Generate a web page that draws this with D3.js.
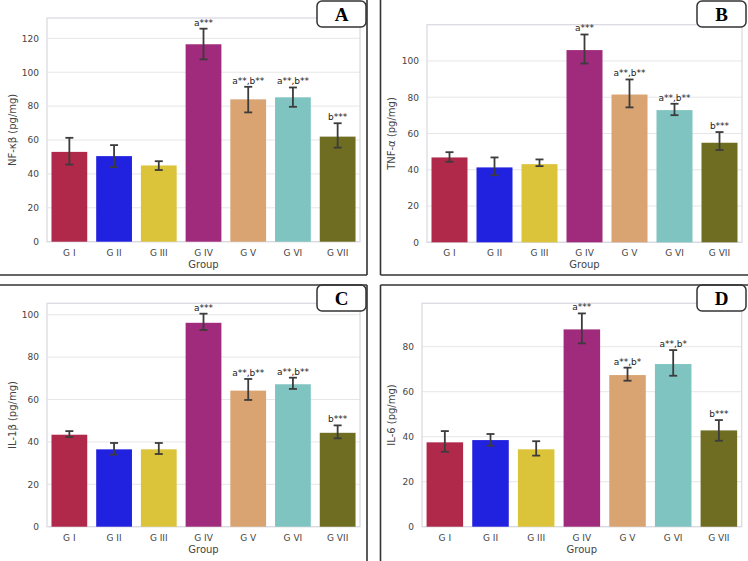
<!DOCTYPE html>
<html lang="en">
<head>
<meta charset="UTF-8">
<title>cytokines by group</title>
<script src="https://d3js.org/d3.v7.min.js"></script>
<style>
    body { margin: 0; background: #fff; }
    .tick-label { font-family: "DejaVu Sans", sans-serif; font-size: 9px; fill: #444; }
    .axis-title { font-family: "DejaVu Sans", sans-serif; font-size: 10px; fill: #444; }
    .sig { font-family: "DejaVu Sans", sans-serif; font-size: 9px; fill: #222; text-anchor: middle; }
    .panel-letter { font-family: "Liberation Serif", "Times New Roman", serif; font-size: 19px; font-weight: bold; text-anchor: middle; }
</style>
</head>
<body>
<svg id="fig" width="748" height="561"></svg>
<script>
    // groups and bar colours
    const groups = ["G I", "G II", "G III", "G IV", "G V", "G VI", "G VII"];
    const colors = ["#b0294b", "#2121e0", "#dcc43a", "#a02a7c", "#d9a472", "#7fc4c0", "#6e6d22"];
    const sigLabels = ["", "", "", "a***", "a**,b**", "a**,b**", "b***"];
    const sigLabelsD = ["", "", "", "a***", "a**,b*", "a**,b*", "b***"];

    // panel A : NF-kB
    const nfkbMean = [53, 50.5, 45, 116.5, 84, 85.2, 62];
    const nfkbLo = [45.5, 44, 42.3, 107.6, 76.3, 79.6, 55.5];
    const nfkbHi = [61.3, 57, 47.5, 125.7, 91.4, 91, 69.9];

    // panel B : TNF-a
    const tnfMean = [46.8, 41.3, 43.1, 106, 81.5, 72.9, 54.9];
    const tnfLo = [44.4, 37, 42, 98.6, 74.4, 70.1, 50.9];
    const tnfHi = [49.7, 46.8, 45.7, 114.6, 89.8, 76.4, 60.8];

    // panel C : IL-1b
    const il1Mean = [43.4, 36.5, 36.5, 96.2, 64.2, 67.2, 44.3];
    const il1Lo = [42.3, 34, 34.3, 92.8, 59.8, 65, 41.7];
    const il1Hi = [45.1, 39.5, 39.5, 100.5, 69.7, 70.3, 47.8];

    // panel D : IL-6
    const il6Mean = [37.5, 38.5, 34.4, 87.7, 67.4, 72.3, 42.8];
    const il6Lo = [33.3, 36, 31.6, 81.5, 64.9, 67.1, 38.2];
    const il6Hi = [42.5, 41.2, 38, 94.8, 70.7, 78.5, 47.4];

    const svg = d3.select("#fig");

    const panels = [
        {letter: "A", ylabel: "NF-κβ (pg/mg)", mean: nfkbMean, lo: nfkbLo, hi: nfkbHi, sig: sigLabels,
         left: 47, right: 360, top: 18, bottom: 241.7, ymax: 132, ticks: [0, 20, 40, 60, 80, 100, 120],
         ylabX: 12, box: [317, 1]},
        {letter: "B", ylabel: "TNF-α (pg/mg)", mean: tnfMean, lo: tnfLo, hi: tnfHi, sig: sigLabels,
         left: 427, right: 742, top: 24.7, bottom: 242.3, ymax: 120, ticks: [0, 20, 40, 60, 80, 100],
         ylabX: 391, box: [697, 1]},
        {letter: "C", ylabel: "IL-1β (pg/mg)", mean: il1Mean, lo: il1Lo, hi: il1Hi, sig: sigLabels,
         left: 47, right: 360, top: 303.3, bottom: 526.7, ymax: 105.4, ticks: [0, 20, 40, 60, 80, 100],
         ylabX: 12, box: [317, 285]},
        {letter: "D", ylabel: "IL-6 (pg/mg)", mean: il6Mean, lo: il6Lo, hi: il6Hi, sig: sigLabelsD,
         left: 422, right: 741.7, top: 303.3, bottom: 526.7, ymax: 99.3, ticks: [0, 20, 40, 60, 80],
         ylabX: 391, box: [697, 285]}
    ];

    panels.forEach(drawPanel);

    function drawPanel(p) {
        const g = svg.append("g");
        const x = d3.scaleBand().domain(groups).range([p.left, p.right])
            .paddingInner(0.2).paddingOuter(0.1);
        const y = d3.scaleLinear().domain([0, p.ymax]).range([p.bottom, p.top]);

        // grid
        g.selectAll(".grid").data(p.ticks).enter().append("line")
            .attr("x1", p.left).attr("x2", p.right)
            .attr("y1", d => y(d)).attr("y2", d => y(d))
            .attr("stroke", "#e6e6e6").attr("stroke-width", 1);

        // frame
        g.append("rect")
            .attr("x", p.left).attr("y", p.top)
            .attr("width", p.right - p.left).attr("height", p.bottom - p.top)
            .attr("fill", "none").attr("stroke", "#d8d8e0").attr("stroke-width", 1.2);

        // y ticks
        g.selectAll(".yt").data(p.ticks).enter().append("text")
            .attr("class", "tick-label")
            .attr("x", p.left - 8).attr("y", d => y(d) + 3.3)
            .attr("text-anchor", "end")
            .text(d => d);

        // bars
        g.selectAll(".bar").data(groups).enter().append("rect")
            .attr("x", d => x(d)).attr("width", x.bandwidth())
            .attr("y", (d, i) => y(p.mean[i]))
            .attr("height", (d, i) => y(0) - y(p.mean[i]))
            .attr("fill", (d, i) => colors[i]);

        // error bars
        const cx = d => x(d) + x.bandwidth() / 2;
        const eb = g.selectAll(".err").data(groups).enter().append("g")
            .attr("stroke", "#3c3c3c").attr("stroke-width", 1.8);
        eb.append("line")
            .attr("x1", cx).attr("x2", cx)
            .attr("y1", (d, i) => y(p.lo[i])).attr("y2", (d, i) => y(p.hi[i]));
        eb.append("line")
            .attr("x1", d => cx(d) - 4).attr("x2", d => cx(d) + 4)
            .attr("y1", (d, i) => y(p.hi[i])).attr("y2", (d, i) => y(p.hi[i]));
        eb.append("line")
            .attr("x1", d => cx(d) - 4).attr("x2", d => cx(d) + 4)
            .attr("y1", (d, i) => y(p.lo[i])).attr("y2", (d, i) => y(p.lo[i]));

        // significance labels
        g.selectAll(".sig").data(groups).enter().append("text")
            .attr("class", "sig")
            .attr("x", cx)
            .attr("y", (d, i) => y(p.hi[i]) - 3)
            .text((d, i) => p.sig[i]);

        // x ticks
        g.selectAll(".xt").data(groups).enter().append("text")
            .attr("class", "tick-label")
            .attr("x", cx).attr("y", p.bottom + 14)
            .attr("text-anchor", "middle")
            .text(d => d);

        g.append("text").attr("class", "axis-title")
            .attr("x", (p.left + p.right) / 2).attr("y", p.bottom + 26)
            .attr("text-anchor", "middle").text("Group");

        g.append("text").attr("class", "axis-title")
            .attr("transform", `translate(${p.ylabX},${(p.top + p.bottom) / 2}) rotate(-90)`)
            .attr("text-anchor", "middle").attr("dy", "0.35em")
            .text(p.ylabel);

        // letter box
        g.append("rect")
            .attr("x", p.box[0]).attr("y", p.box[1])
            .attr("width", 49).attr("height", 26).attr("rx", 5)
            .attr("fill", "#fff").attr("stroke", "#333").attr("stroke-width", 1.5);
        g.append("text").attr("class", "panel-letter")
            .attr("x", p.box[0] + 24.5).attr("y", p.box[1] + 20)
            .text(p.letter);
    }

    // panel frame lines
    const frames = [
        [367, 0, 367, 275], [0, 275, 367, 275],
        [380.5, 0, 380.5, 275], [380.5, 275, 748, 275],
        [0, 285, 367, 285], [367, 285, 367, 561],
        [380.5, 285, 748, 285], [380.5, 285, 380.5, 561]
    ];
    svg.selectAll(".frame").data(frames).enter().append("line")
        .attr("x1", d => d[0]).attr("y1", d => d[1])
        .attr("x2", d => d[2]).attr("y2", d => d[3])
        .attr("stroke", "#333").attr("stroke-width", 1.6);
</script>
</body>
</html>
